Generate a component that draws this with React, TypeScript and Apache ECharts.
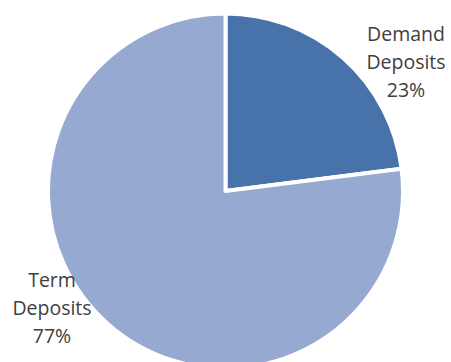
import React, { useEffect, useRef } from "react";
import * as echarts from "echarts";

const categories = ["Demand Deposits", "Term Deposits"];
const values = [23, 77];
const colors = ["#4773AA", "#95A9D1"];

export default function App() {
  const ref = useRef<HTMLDivElement>(null);
  useEffect(() => {
    if (!ref.current) return;
    const chart = echarts.init(ref.current, undefined, { renderer: "svg" });
    const labelPos = [
      { x: 406, y: 61.5 },
      { x: 52, y: 307 },
    ];
    chart.setOption({
      animation: false,
      backgroundColor: "#ffffff",
      series: [
        {
          type: "pie",
          center: [225.5, 191],
          radius: 177.5,
          startAngle: 90,
          clockwise: true,
          avoidLabelOverlap: false,
          itemStyle: { borderColor: "#ffffff", borderWidth: 4 },
          label: {
            show: true,
            position: "outside",
            color: "#404040",
            fontFamily: "Open Sans",
            fontSize: 19.5,
            lineHeight: 28,
            align: "center",
            formatter: (p: any) => p.name.replace(" ", "\n") + "\n" + Math.round(p.percent) + "%",
          },
          labelLine: { show: false },
          labelLayout: (params: any) => ({
            x: labelPos[params.dataIndex].x,
            y: labelPos[params.dataIndex].y,
            align: "center",
            verticalAlign: "middle",
          }),
          emphasis: { disabled: true },
          data: categories.map((name, i) => ({
            name,
            value: values[i],
            itemStyle: { color: colors[i] },
          })),
        },
      ],
    });
    return () => chart.dispose();
  }, []);
  return (
    <div
      ref={ref}
      style={{ position: "absolute", left: 0, top: 0, width: 451, height: 362 }}
    />
  );
}
